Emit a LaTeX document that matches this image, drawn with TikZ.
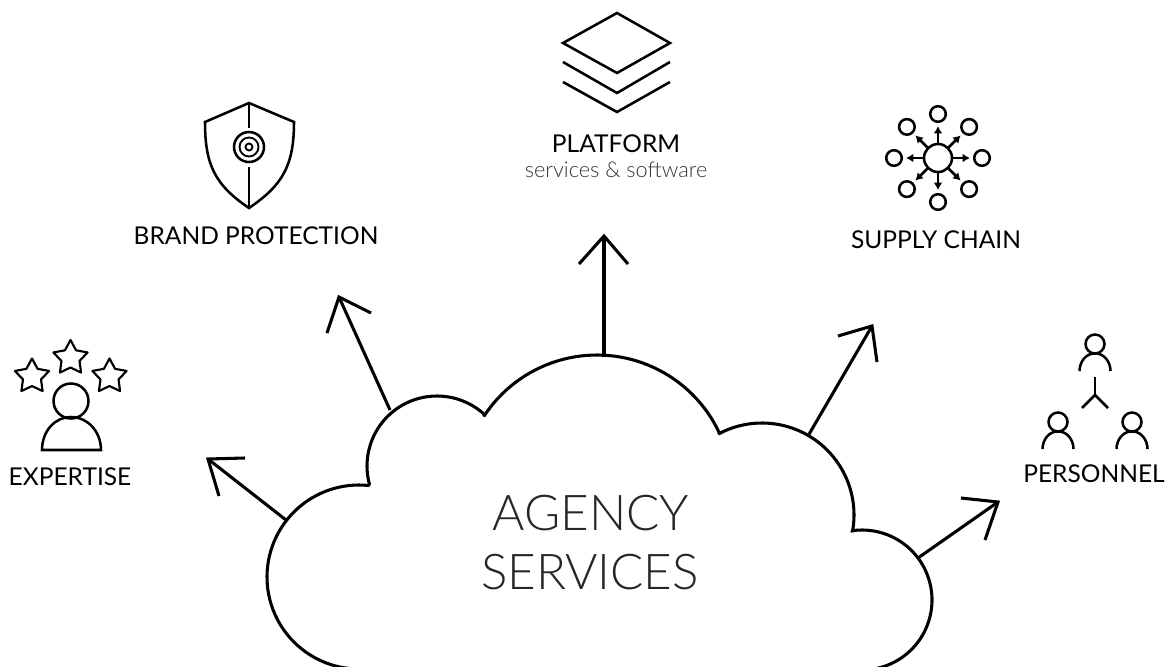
\documentclass[tikz,border=0pt]{standalone}
\usepackage{fontspec}
\usetikzlibrary{arrows.meta}
\setmainfont{Lato}
\newfontfamily\lightf{Lato Light}
\begin{document}
\begin{tikzpicture}[x=0.75pt,y=-0.75pt,
  ink/.style={draw=black,line width=2.3pt,line join=miter,line cap=butt},
  fineink/.style={draw=black,line width=1.9pt,line join=miter},
  lab/.style={inner sep=0pt,font=\fontsize{18.4}{22}\selectfont,text=black},
  big/.style={inner sep=0pt,align=center,font=\lightf\fontsize{37}{44}\selectfont,text=black!85}]
\useasboundingbox (0,0) rectangle (1167,667);
% cloud
\begin{scope}
\clip (0,0) rectangle (1167,667);
\draw[ink,line join=bevel] plot[domain=95:276,samples=60] ({359+92*cos(\x)},{577+92*sin(\x)})
  -- plot[domain=165.2:312.6,samples=50] ({437+70*cos(\x)},{466+70*sin(\x)})
  -- plot[domain=213:334.8,samples=50] ({597+135*cos(\x)},{490+135*sin(\x)})
  -- plot[domain=241.8:370.7,samples=50] ({762+92*cos(\x)},{515+92*sin(\x)})
  -- plot[domain=261.6:440,samples=60] ({862+70*cos(\x)},{600+70*sin(\x)});
\end{scope}
\node[big,anchor=base] (t) at (591,530) {AGENCY};
\node[big,anchor=base] (t2) at (590,589) {SERVICES};
% arrows
\coordinate (c1) at (286,520); \coordinate (a1) at (208,459);
\coordinate (c2) at (390,410); \coordinate (a2) at (339,297);
\coordinate (c3) at (604,357); \coordinate (a3) at (604,236);
\coordinate (c4) at (808,436); \coordinate (a4) at (872,326);
\coordinate (c5) at (918,558); \coordinate (a5) at (998,502);
\draw[ink] (c1)--(a1); \draw[ink] (219,496)--(a1)--(245,458);
\draw[ink] (c2)--(a2); \draw[ink] (327,333)--(a2)--(371,313);
\draw[ink] (c3)--(a3); \draw[ink] (579,264)--(a3)--(628,264);
\draw[ink] (c4)--(a4); \draw[ink] (838,336)--(a4)--(877,362);
\draw[ink] (c5)--(a5); \draw[ink] (961,498)--(a5)--(985,540);
% layers icon
\draw[fineink] (617,13)--(670,43)--(617,73)--(563,43)--cycle;
\draw[fineink] (563,62)--(617,93)--(670,62);
\draw[fineink] (563,82)--(617,112)--(670,82);
\node[lab,anchor=base] (pf) at (616,152) {PLATFORM};
\node[inner sep=0pt,anchor=base,font=\lightf\fontsize{16.3}{19}\selectfont,text=black!80] (ps) at (616,177) {services \& software};
% shield
\draw[fineink] (249,103)--(205,122) .. controls (205,165) and (215,185) .. (249,208)
  .. controls (283,185) and (294,165) .. (294,122) -- cycle;
\draw[fineink] (249,103)--(249,128); \draw[fineink] (249,167)--(249,208);
\draw[fineink] (249,147) circle (15);
\draw[fineink,line width=1.4pt] (249,147) circle (9.5);
\draw[fineink,line width=1.4pt] (249,147) circle (3.5);
\node[lab,anchor=base] (bp) at (256,244) {BRAND PROTECTION};
% supply chain
\draw[fineink] (938,158) circle (14);
\foreach \a in {0,45,...,315}{
  \draw[fineink] (938,158) ++(\a:44) circle (7.8);
  \draw[fineink,-{Latex[length=5.5pt,width=6.5pt]}] (938,158) ++(\a:14) -- ++(\a:18);
}
\node[lab,anchor=base] (sc) at (936,248) {SUPPLY CHAIN};
% expertise
\foreach \cx/\cy in {32/376.5,70.5/358,109.5/376.5}{
  \draw[fineink,line width=1.6pt,line join=round] plot[samples at={0,1,...,9}] ({\cx+ifthenelse(mod(\x,2)==0,18,9.5)*cos(-90+36*\x)},{\cy+ifthenelse(mod(\x,2)==0,18,9.5)*sin(-90+36*\x)}) -- cycle;
}
\draw[fineink] (71,401) circle (17.5);
\draw[fineink] (42,450) .. controls (42,431) and (55,417) .. (71,417) .. controls (87,417) and (101,431) .. (101,450) -- cycle;
\node[lab,anchor=base] (ex) at (70,485) {EXPERTISE};
% personnel
\foreach \px/\py/\bb in {1095/344/371,1058/422/449,1132/422/449}{
  \draw[fineink] (\px,\py) circle (9.5);
  \draw[fineink] (\px-15.5,\bb) .. controls (\px-15.5,\bb-9) and (\px-9,\py+9) .. (\px,\py+9.5) .. controls (\px+9,\py+9) and (\px+15.5,\bb-9) .. (\px+15.5,\bb);
}
\draw[fineink] (1095,377)--(1095,395);
\draw[fineink] (1082,408)--(1095,395)--(1108,408);
\node[lab,anchor=base] (pn) at (1094,482) {PERSONNEL};
\end{tikzpicture}
\end{document}
